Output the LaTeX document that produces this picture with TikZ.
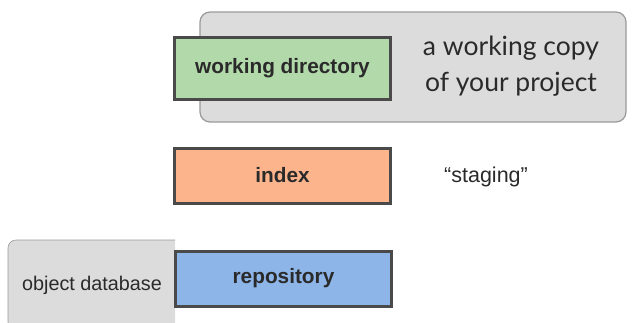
\documentclass[tikz,border=0pt]{standalone}
\usepackage{fontspec}
\setmainfont{Liberation Sans}
\newfontfamily\gillfont{Lato}
\definecolor{wdgreen}{HTML}{B2D9A9}
\definecolor{idxorange}{HTML}{FBB48C}
\definecolor{repoblue}{HTML}{8DB5E8}
\definecolor{panelgray}{HTML}{DCDCDC}
\definecolor{paneledge}{HTML}{9A9A9A}
\definecolor{boxedge}{HTML}{4A4A4A}
\definecolor{txt}{HTML}{2A2A2A}
\tikzset{
  stagebox/.style={draw=boxedge, line width=3pt, minimum width=216pt, minimum height=57pt, inner sep=0pt, text=txt, font=\fontsize{20.8}{24}\selectfont\bfseries},
  panel/.style={fill=panelgray, draw=paneledge, line width=1.2pt},
}
\begin{document}
\begin{tikzpicture}[x=1pt,y=-1pt]
\useasboundingbox (0,0) rectangle (634,322);
% top panel
\draw[panel, rounded corners=10pt] (200,12) rectangle (626,122);
% object database panel
\path[fill=panelgray, draw=paneledge, line width=0.6pt, rounded corners=8pt] (175,240) -- (8,240) -- (8,330) -- (175,330);
\fill[panelgray] (20,241) rectangle (175,322);
\node[stagebox, fill=wdgreen, minimum height=62pt] (wd) at (282.5,68.5) {working directory};
\node[stagebox, fill=idxorange, minimum height=55pt] (idx) at (282.5,175.5) {index};
\node[stagebox, fill=repoblue, minimum height=55pt] (repo) at (283.5,278.5) {repository};
\node[text=txt, font=\gillfont\fontsize{26.5}{36}\selectfont, align=center] (copy) at (511,66) {a working copy\\of your project};
\node[text=txt, font=\fontsize{21.5}{24}\selectfont] (stg) at (486,177) {“staging”};
\node[text=txt, font=\fontsize{19.8}{22}\selectfont] (odb) at (92,285) {object database};
\end{tikzpicture}
\end{document}
